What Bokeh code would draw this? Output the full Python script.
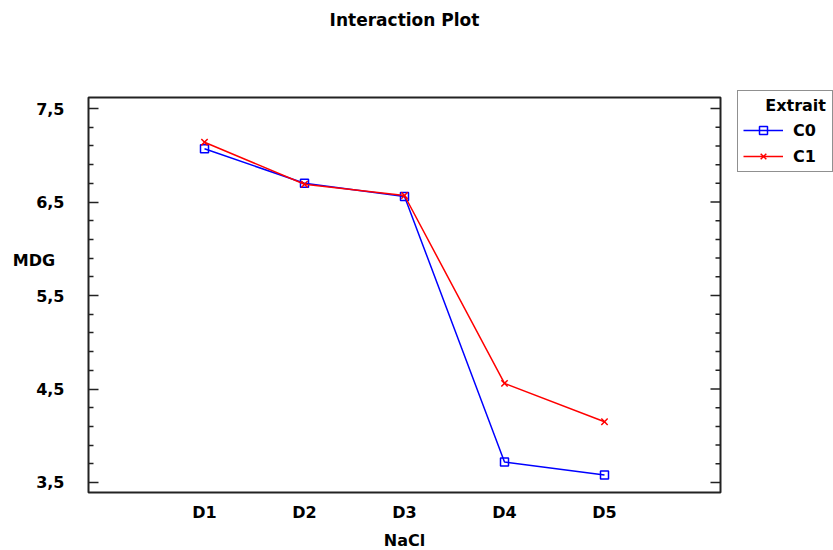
import numpy as np
from bokeh.plotting import figure
from bokeh.models import Range1d, Legend, LegendItem, LinearAxis, FixedTicker
from bokeh.embed import file_html
from bokeh.resources import INLINE

categories = ["D1", "D2", "D3", "D4", "D5"]
positions = [1, 2, 3, 4, 5]
c0 = [7.07, 6.70, 6.56, 3.72, 3.58]
c1 = [7.14, 6.69, 6.57, 4.56, 4.15]
y_ticks = [3.5, 4.5, 5.5, 6.5, 7.5]
y_tick_labels = ["3,5", "4,5", "5,5", "6,5", "7,5"]
y_minor = [3.7, 3.9, 4.1, 4.3, 4.7, 4.9, 5.1, 5.3, 5.7, 5.9, 6.1, 6.3, 6.7, 6.9, 7.1, 7.3]

FONT = "DejaVu Sans"
FS = "16px"
FRAME = "#222222"

x_range = Range1d(-0.16, 6.16)
y_range = Range1d(3.393, 7.618)

p = figure(frame_width=632, frame_height=395,
           x_range=x_range, y_range=y_range,
           output_backend="svg", toolbar_location=None,
           min_border_left=88, min_border_right=113, min_border_top=97, min_border_bottom=58)

p.xgrid.visible = False
p.ygrid.visible = False
p.outline_line_color = FRAME
p.outline_line_width = 2
p.background_fill_color = "white"
p.border_fill_color = "white"

# x axis (bottom)
xa = p.below[0]
xa.ticker = FixedTicker(ticks=positions)
xa.major_label_overrides = {pos: lab for pos, lab in zip(positions, categories)}
xa.major_tick_line_color = None
xa.minor_tick_line_color = None
xa.axis_line_color = None
xa.major_label_text_font = FONT
xa.major_label_text_font_style = "bold"
xa.major_label_text_font_size = FS
xa.major_label_text_color = "black"
xa.major_label_standoff = 4
xa.axis_label = "NaCl"
xa.axis_label_text_font = FONT
xa.axis_label_text_font_style = "bold"
xa.axis_label_text_font_size = FS
xa.axis_label_text_color = "black"
xa.axis_label_standoff = 6

# y axis (left)
ya = p.left[0]
ya.ticker = FixedTicker(ticks=y_ticks, minor_ticks=y_minor)
ya.major_label_overrides = {t: l for t, l in zip(y_ticks, y_tick_labels)}
ya.axis_line_color = None
ya.major_tick_in = 10
ya.major_tick_out = 0
ya.minor_tick_in = 5
ya.minor_tick_out = 0
ya.major_tick_line_color = FRAME
ya.minor_tick_line_color = FRAME
ya.major_tick_line_width = 1.5
ya.minor_tick_line_width = 1.5
ya.major_label_text_font = FONT
ya.major_label_text_font_style = "bold"
ya.major_label_text_font_size = FS
ya.major_label_text_color = "black"
ya.major_label_standoff = 24
ya.axis_label = "MDG\n\n\n"
ya.axis_label_orientation = "horizontal"
ya.axis_label_text_font = FONT
ya.axis_label_text_font_style = "bold"
ya.axis_label_text_font_size = FS
ya.axis_label_text_color = "black"
ya.axis_label_standoff = -22

# chart title, carried by a tick-less top axis so it can sit well above the frame
ta = LinearAxis(ticker=FixedTicker(ticks=[]))
ta.axis_line_color = None
ta.major_tick_line_color = None
ta.minor_tick_line_color = None
ta.major_tick_in = 0
ta.major_tick_out = 0
ta.minor_tick_in = 0
ta.minor_tick_out = 0
ta.major_label_standoff = 0
ta.axis_label = "Interaction Plot"
ta.axis_label_text_font = FONT
ta.axis_label_text_font_style = "bold"
ta.axis_label_text_font_size = "17px"
ta.axis_label_text_color = "black"
ta.axis_label_standoff = 68
p.add_layout(ta, "above")

# right side: inward ticks at the frame's right edge
p.ray(x=[x_range.end] * len(y_ticks), y=y_ticks, length=10, angle=np.pi,
      length_units="screen", line_color=FRAME, line_width=1.5)
p.ray(x=[x_range.end] * len(y_minor), y=y_minor, length=5, angle=np.pi,
      length_units="screen", line_color=FRAME, line_width=1.5)

# data
l0 = p.line(positions, c0, line_color="#0000FF", line_width=1.5)
s0 = p.scatter(positions, c0, marker="square", size=8, line_color="#0000FF",
               fill_color=None, line_width=1.5)
l1 = p.line(positions, c1, line_color="#FF0000", line_width=1.5)
s1 = p.scatter(positions, c1, marker="x", size=9, line_color="#FF0000", line_width=1.5)

legend = Legend(items=[LegendItem(label="C0", renderers=[l0, s0]),
                       LegendItem(label="C1", renderers=[l1, s1])],
                title="\u00a0\u00a0\u00a0\u00a0Extrait", location=(17, 320), margin=0)
legend.title_text_font = FONT
legend.title_text_font_style = "bold"
legend.title_text_font_size = FS
legend.title_text_color = "black"
legend.label_text_font = FONT
legend.label_text_font_style = "bold"
legend.label_text_font_size = FS
legend.label_text_color = "black"
legend.glyph_width = 40
legend.glyph_height = 20
legend.label_height = 20
legend.label_width = 34
legend.label_standoff = 10
legend.spacing = 6
legend.padding = 5
legend.title_standoff = 5
legend.border_line_color = FRAME
legend.border_line_width = 1.5
legend.background_fill_color = "white"
legend.background_fill_alpha = 1
p.add_layout(legend, "right")

open("out.html", "w").write(file_html(p, INLINE))
